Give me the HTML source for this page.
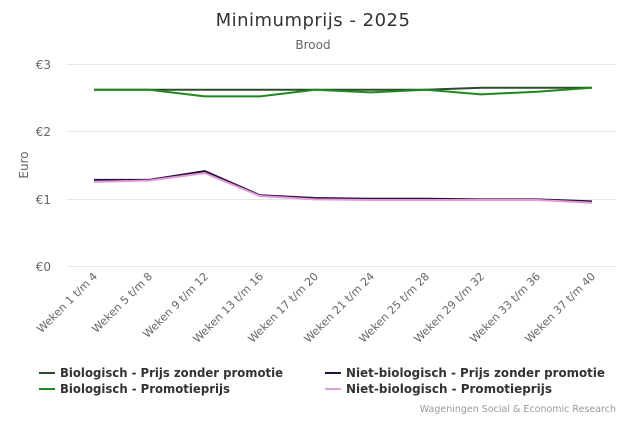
<!DOCTYPE html><html><head><style>body{margin:0;background:#fff}svg{font-family:"DejaVu Sans","Liberation Sans",sans-serif}</style></head><body>
<svg width="626" height="417" viewBox="0 0 626 417">
<text x="313" y="26" text-anchor="middle" font-size="18" letter-spacing="0.5" fill="#333">Minimumprijs - 2025</text>
<text x="313" y="49" text-anchor="middle" font-size="12" fill="#666">Brood</text>
<g stroke="#e6e6e6" stroke-width="1">
<line x1="67" x2="616" y1="64.5" y2="64.5"/><line x1="67" x2="616" y1="131.5" y2="131.5"/><line x1="67" x2="616" y1="199.5" y2="199.5"/><line x1="67" x2="616" y1="266.5" y2="266.5"/></g>
<g font-size="12" fill="#666" text-anchor="end"><text x="51" y="69">€3</text><text x="51" y="136">€2</text><text x="51" y="204">€1</text><text x="51" y="271">€0</text></g>
<text transform="translate(28,165) rotate(-90)" text-anchor="middle" font-size="12" fill="#666">Euro</text>
<g fill="none" stroke-width="2" stroke-linejoin="round">
<polyline stroke="#2b4a2b" points="94,89.7 149.3,89.7 204.7,89.7 260,89.7 315.3,89.7 370.7,89.7 426,89.7 481.3,87.7 536.7,87.7 592,87.7"/>
<polyline stroke="#1e8a1e" points="94,89.7 149.3,89.7 204.7,96.4 260,96.4 315.3,89.7 370.7,92.4 426,89.7 481.3,94.4 536.7,91.7 592,87.7"/>
<polyline stroke="#2a0d3f" points="94,179.9 149.3,179.9 204.7,171.1 260,195.3 315.3,198 370.7,198.7 426,198.7 481.3,199.4 536.7,199.4 592,201.4"/>
<polyline stroke="#e29ad8" points="94,181.9 149.3,180.5 204.7,173.1 260,196 315.3,199.4 370.7,200 426,200 481.3,200 536.7,200 592,202.7"/>
</g>
<g font-size="11" fill="#666" text-anchor="end">
<text transform="translate(98,277) rotate(-45)">Weken 1 t/m 4</text>
<text transform="translate(153,277) rotate(-45)">Weken 5 t/m 8</text>
<text transform="translate(209,277) rotate(-45)">Weken 9 t/m 12</text>
<text transform="translate(264,277) rotate(-45)">Weken 13 t/m 16</text>
<text transform="translate(319,277) rotate(-45)">Weken 17 t/m 20</text>
<text transform="translate(375,277) rotate(-45)">Weken 21 t/m 24</text>
<text transform="translate(430,277) rotate(-45)">Weken 25 t/m 28</text>
<text transform="translate(485,277) rotate(-45)">Weken 29 t/m 32</text>
<text transform="translate(541,277) rotate(-45)">Weken 33 t/m 36</text>
<text transform="translate(596,277) rotate(-45)">Weken 37 t/m 40</text>
</g>
<g font-size="12" font-weight="bold" fill="#333">
<line x1="39" x2="55" y1="373" y2="373" stroke="#2b4a2b" stroke-width="2"/><text x="60" y="377" textLength="223" lengthAdjust="spacingAndGlyphs">Biologisch - Prijs zonder promotie</text>
<line x1="39" x2="55" y1="389" y2="389" stroke="#1e8a1e" stroke-width="2"/><text x="60" y="393" textLength="170" lengthAdjust="spacingAndGlyphs">Biologisch - Promotieprijs</text>
<line x1="325" x2="341" y1="373" y2="373" stroke="#2a0d3f" stroke-width="2"/><text x="346" y="377" textLength="259" lengthAdjust="spacingAndGlyphs">Niet-biologisch - Prijs zonder promotie</text>
<line x1="325" x2="341" y1="389" y2="389" stroke="#e29ad8" stroke-width="2"/><text x="346" y="393" textLength="206" lengthAdjust="spacingAndGlyphs">Niet-biologisch - Promotieprijs</text>
</g>
<text x="616" y="412" text-anchor="end" font-size="9.5" fill="#999">Wageningen Social &amp; Economic Research</text>
</svg></body></html>
